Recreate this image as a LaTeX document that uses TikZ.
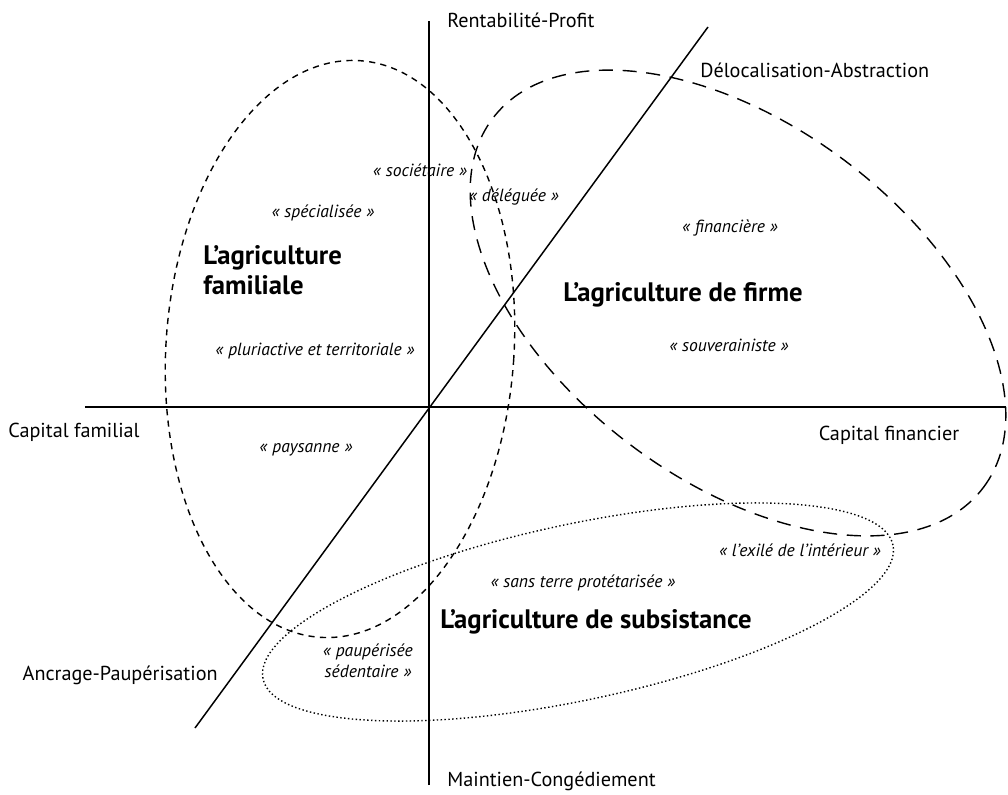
\documentclass[tikz,border=0pt]{standalone}
\usepackage{fontspec}
\setmainfont{PT Sans}

\begin{document}
\begin{tikzpicture}[
		axe/.style={line width=0.85pt},
		pole/.style={inner sep=0pt, font=\fontsize{11.5}{13}\selectfont},
		type/.style={inner sep=0pt, align=center, font=\itshape\fontsize{10}{12}\selectfont},
		modele/.style={inner sep=0pt, align=left, font=\bfseries\fontsize{15.2}{17}\selectfont},
		tiret/.style={line width=0.8pt, dash pattern=on 3.5pt off 3pt},
		longtiret/.style={line width=0.8pt, dash pattern=on 8pt off 5.5pt},
		pointille/.style={line width=0.8pt, dash pattern=on 0.8pt off 1.4pt}
	]
		
		\useasboundingbox (-8.58,-7.74) rectangle (11.58,8.14);
		
		% Axes
		\coordinate (O) at (0,0);
		\coordinate (ouest) at (-6.88,0);
		\coordinate (est) at (11.54,0);
		\coordinate (sud) at (0,-7.56);
		\coordinate (nord) at (0,7.72);
		\coordinate (bas) at (-4.68,-6.42);
		\coordinate (haut) at (5.58,7.6);
		\draw[axe] (ouest) -- (est);
		\draw[axe] (sud) -- (nord);
		\draw[axe] (bas) -- (haut);
		
		% Poles
		\node[pole, anchor=west] (profit) at (0.36,7.74) {Rentabilité-Profit};
		\node[pole, anchor=west] (deloc) at (5.42,6.74) {Délocalisation-Abstraction};
		\node[pole, anchor=west] (capfam) at (-8.42,-0.5) {Capital familial};
		\node[pole] (capfin) at (9.2,-0.56) {Capital financier};
		\node[pole, anchor=east] (ancrage) at (-4.22,-5.36) {Ancrage-Paupérisation};
		\node[pole, anchor=west] (maintien) at (0.36,-7.48) {Maintien-Congédiement};
		
		% Ellipses
		\draw[tiret, rotate around={-4:(-1.78,1.16)}] (-1.78,1.16) ellipse (3.48 and 5.78);
		\draw[longtiret, rotate around={-36.9:(6.18,2.08)}] (6.18,2.08) ellipse (6.14 and 3.56);
		\draw[pointille, rotate around={12:(2.98,-4.1)}] (2.98,-4.1) ellipse (6.44 and 1.76);
		
		% Modeles
		\node[modele, anchor=west] (familiale) at (-4.52,2.74) {L’agriculture\\familiale};
		\node[modele] (firme) at (5.08,2.24) {L’agriculture de firme};
		\node[modele] (subsistance) at (3.34,-4.3) {L’agriculture de subsistance};
		
		% Types
		\foreach \pos/\nom/\txt in {
			{(-0.18,4.74)}/societaire/sociétaire,
			{(1.7,4.2)}/deleguee/déléguée,
			{(-2.12,3.88)}/specialisee/spécialisée,
			{(6.02,3.58)}/financiere/financière,
			{(-2.28,1.12)}/pluriactive/pluriactive et territoriale,
			{(6.0,1.24)}/souverainiste/souverainiste,
			{(-2.46,-0.86)}/paysanne/paysanne,
			{(7.42,-2.86)}/exile/l’exilé de l’intérieur,
			{(3.08,-3.52)}/sansterre/sans terre protétarisée} {
			\node[type] (\nom) at \pos {« \txt\ »};
		}
		\node[type] (pauperisee) at (-1.22,-5.08) {« paupérisée\\sédentaire »};
		
	\end{tikzpicture}
\end{document}
